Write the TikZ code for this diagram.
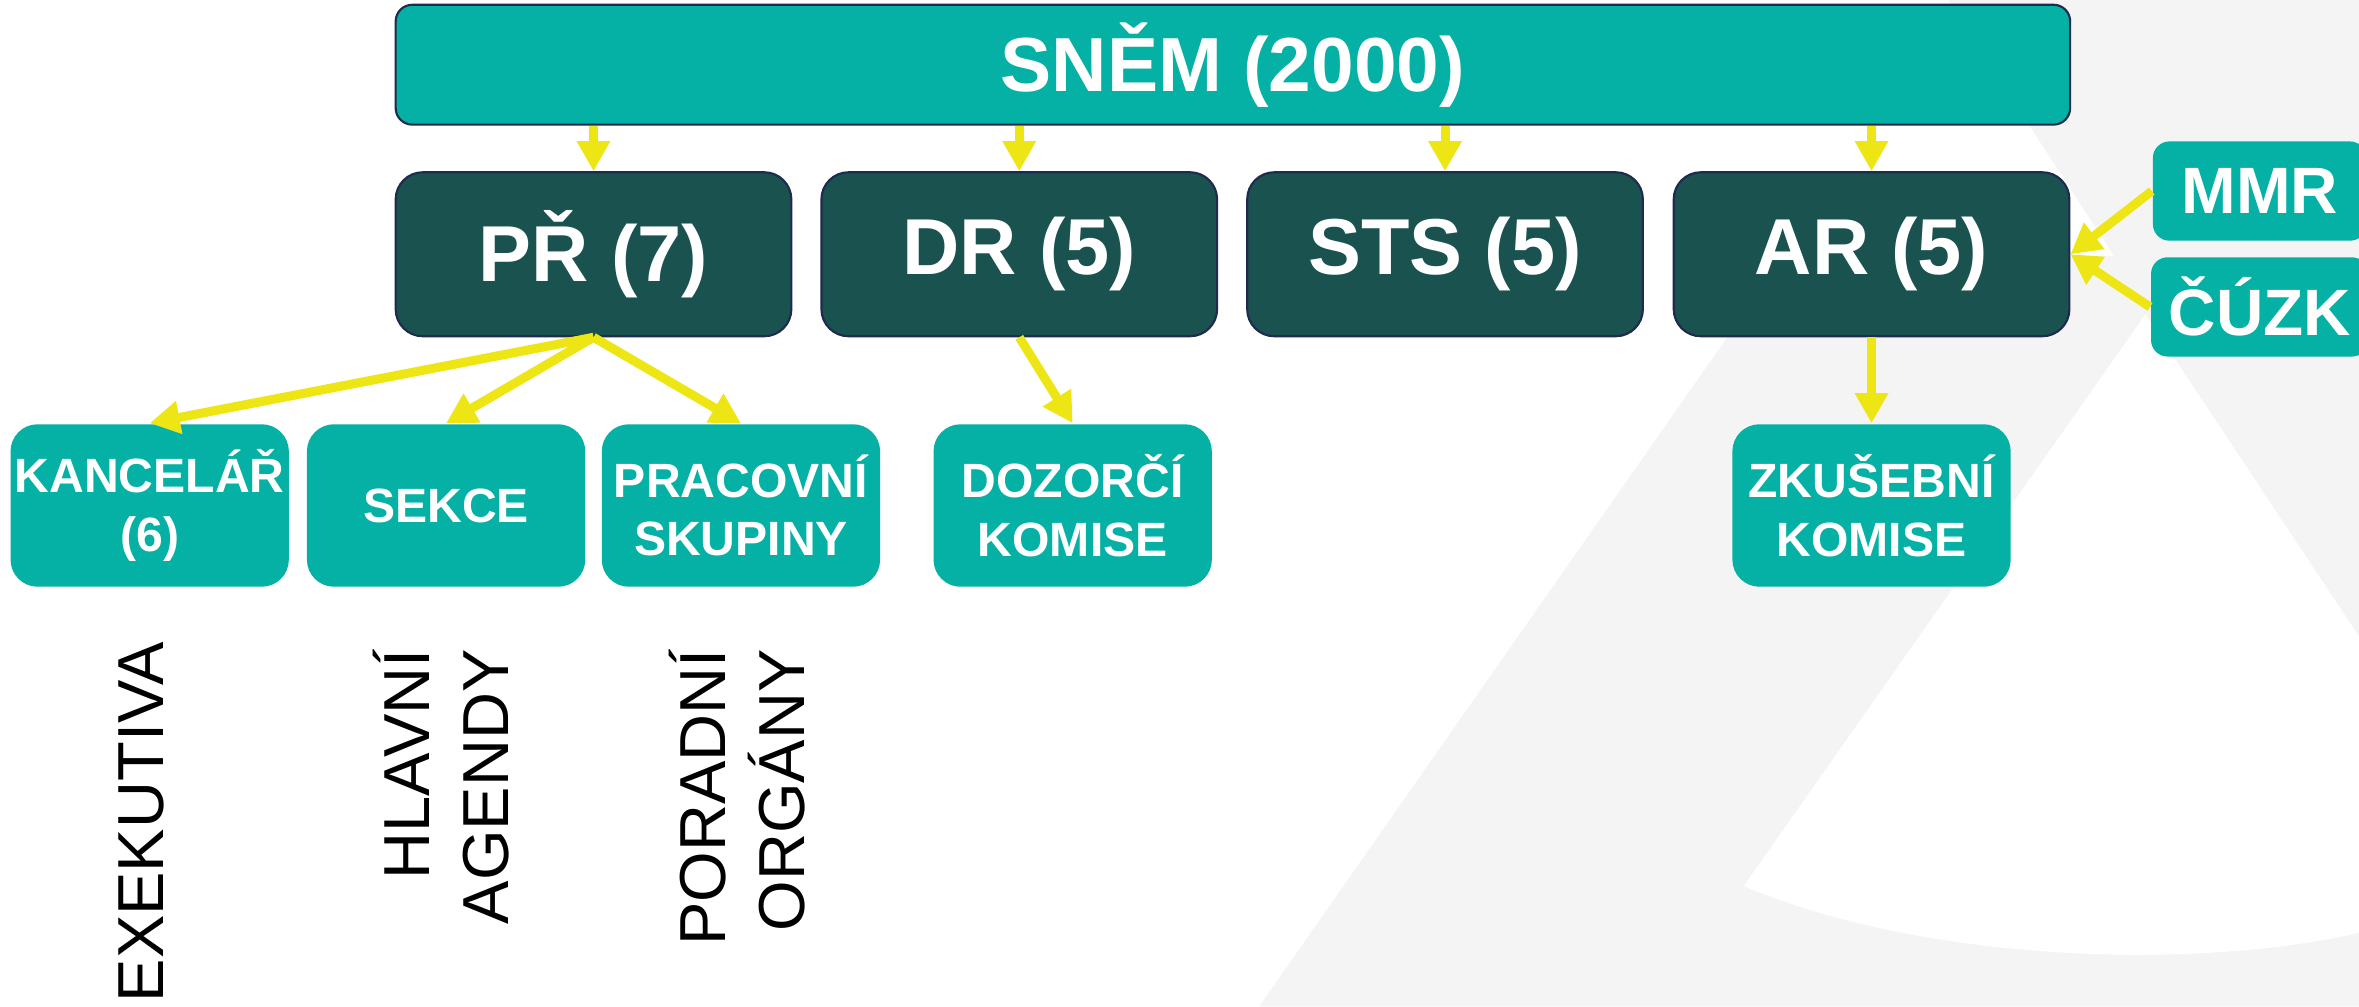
\documentclass[tikz,border=0pt]{standalone}
\usepackage{fontspec}
\setmainfont{Liberation Sans}
\usetikzlibrary{positioning,arrows.meta}
\definecolor{tyrkys}{HTML}{05B0A5}
\definecolor{tmava}{HTML}{19524E}
\definecolor{zluta}{HTML}{EEE514}
\definecolor{okraj}{HTML}{1E2A4E}
\definecolor{znak}{HTML}{F4F4F4}

\begin{document}
\begin{tikzpicture}[x=0.1mm, y=-0.1mm,
    snem/.style={draw=okraj, line width=0.4pt, fill=tyrkys, rounded corners=1.1mm, minimum width=111.3mm, minimum height=7mm, text=white, font=\fontsize{14.5}{17}\selectfont\bfseries},
    rada/.style={draw=okraj, line width=0.4pt, fill=tmava, rounded corners=1.8mm, minimum width=26.3mm, minimum height=10.9mm, text=white, font=\fontsize{15}{18}\selectfont\bfseries},
    komise/.style={fill=tyrkys, rounded corners=1.8mm, minimum width=18.5mm, minimum height=10.8mm, inner sep=0pt, align=center, text=white, font=\fontsize{9.1}{11.1}\selectfont\bfseries},
    urad/.style={fill=tyrkys, rounded corners=1.1mm, minimum width=14.2mm, minimum height=6.6mm, text=white, font=\fontsize{12.4}{14}\selectfont\bfseries},
    popis/.style={rotate=90, anchor=base east, align=right, inner sep=0pt, font=\fontsize{12.3}{15}\selectfont},
    sipka/.style={draw=zluta, line width=0.6mm, -{Triangle[length=2mm, width=2.1mm]}}]
    \useasboundingbox (0,0) rectangle (1568,669);
    \clip (0,0) rectangle (1568,669);
    \fill[white] (0,0) rectangle (1568,669);

    % Watermark in the background
    \fill[znak] (837,669) -- (1186,170) -- (1405,170) -- (1295,0) -- (1568,0) -- (1568,669) -- cycle;
    \fill[white] (1426,209) -- (1159,589) .. controls (1280,640) and (1460,645) .. (1568,620) -- (1568,423) -- cycle;

    % Top box
    \node[snem] (snem) at (819.5,43) {SNĚM (2000)};

    % Second row
    \foreach \n/\x/\t in {pr/394.5/PŘ (7), dr/677.5/DR (5), sts/960.5/STS (5), ar/1244/AR (5)} {
        \node[rada] (\n) at (\x,169) {\t};
    }
    % Arrows from the top box
    \foreach \n in {pr,dr,sts,ar} {
        \draw[sipka] (snem.south -| \n.north) -- (\n.north);
    }

    % Third row
    \foreach \n/\x/\t in {kancelar/99.5/{KANCELÁŘ\\(6)}, sekce/296.5/SEKCE, skupiny/492.5/{PRACOVNÍ\\SKUPINY}, dozor/713/{DOZORČÍ\\KOMISE}, zkusebni/1244/{ZKUŠEBNÍ\\KOMISE}} {
        \node[komise] (\n) at (\x,336) {\t};
    }
    \foreach \n in {kancelar,sekce,skupiny} {
        \draw[sipka] (pr.south) -- (\n.north);
    }
    \draw[sipka] (dr.south) -- (dozor.north);
    \draw[sipka] (ar.south) -- (zkusebni.north);

    % Outside bodies
    \node[urad] (mmr) at (1502,127) {MMR};
    \node[urad] (cuzk) at (1502,204) {ČÚZK};
    \draw[sipka] (mmr.west) -- (ar.east);
    \draw[sipka] (cuzk.west) -- (ar.east);

    % Vertical captions
    \node[popis] (exekutiva) at (109,426) {EXEKUTIVA};
    \node[popis] (agendy) at (338,431) {HLAVNÍ\\AGENDY};
    \node[popis] (organy) at (535,431) {PORADNÍ\\ORGÁNY};
\end{tikzpicture}
\end{document}
